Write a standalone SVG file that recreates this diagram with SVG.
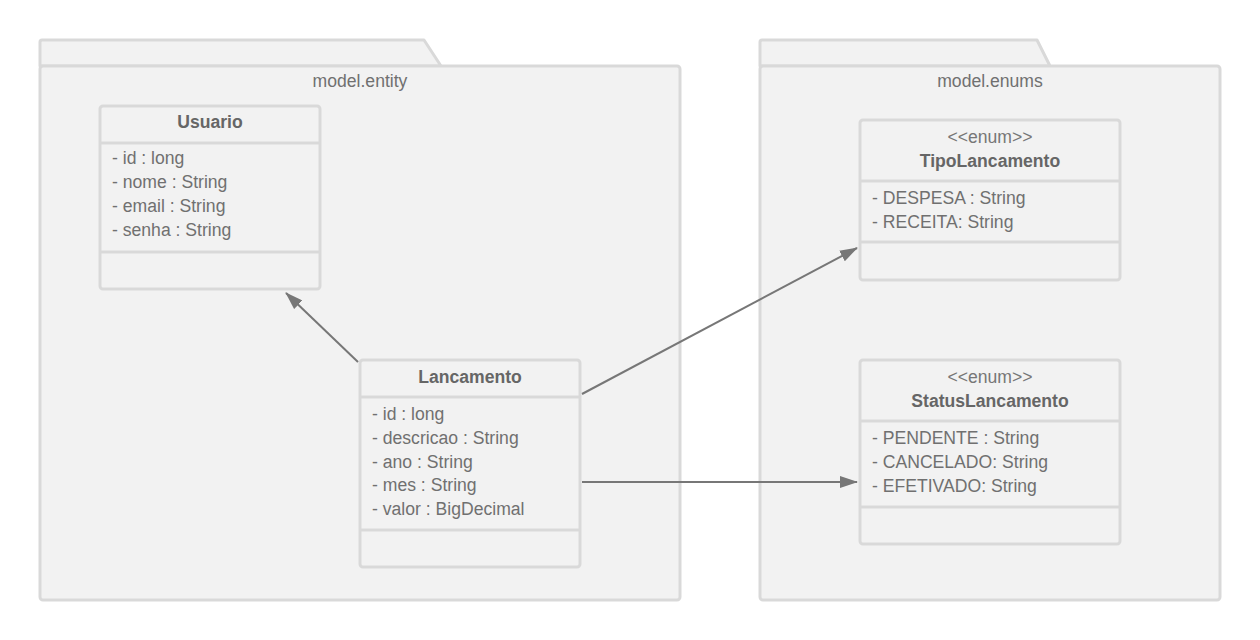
<svg xmlns="http://www.w3.org/2000/svg" width="1260" height="640" viewBox="0 0 1260 640">
<defs>
<style>
.pkg{fill:#f2f2f2;stroke:#d9d9d9;stroke-width:3;stroke-linejoin:round}
.box{fill:#f2f2f2;stroke:#d9d9d9;stroke-width:3}
.div{stroke:#d9d9d9;stroke-width:3}
text{font-family:"Liberation Sans",Arial,sans-serif;font-size:17.6px;fill:#707070}
.t{font-weight:bold;fill:#666;text-anchor:middle}
.c{text-anchor:middle}
.st{text-anchor:middle;fill:#777}
.conn{stroke:#777;stroke-width:2;fill:none}
</style>
<marker id="arr" viewBox="0 0 18 12" refX="17" refY="6" markerWidth="18" markerHeight="12" markerUnits="userSpaceOnUse" orient="auto">
<path d="M0,0 L18,6 L0,12 Z" fill="#777"/>
</marker>
</defs>
<rect width="1260" height="640" fill="#ffffff"/>
<g id="pkg-entity">
<path class="pkg" d="M40,66 L40,42 Q40,40 42,40 L424,40 L441,66 Z"/>
<rect class="pkg" x="40" y="66" width="640" height="534" rx="3"/>
<text class="c" x="360" y="87">model.entity</text>
</g>
<g id="pkg-enums">
<path class="pkg" d="M760,66 L760,42 Q760,40 762,40 L1037,40 L1050,66 Z"/>
<rect class="pkg" x="760" y="66" width="460" height="534" rx="3"/>
<text class="c" x="990" y="87">model.enums</text>
</g>
<g id="usuario">
<rect class="box" x="100" y="106" width="220" height="183" rx="3"/>
<line class="div" x1="100" y1="143" x2="320" y2="143"/>
<line class="div" x1="100" y1="252" x2="320" y2="252"/>
<text class="t" x="210" y="128">Usuario</text>
<text x="112" y="164">- id : long</text>
<text x="112" y="188">- nome : String</text>
<text x="112" y="212">- email : String</text>
<text x="112" y="236">- senha : String</text>
</g>
<g id="lancamento">
<rect class="box" x="360" y="360" width="220" height="207" rx="3"/>
<line class="div" x1="360" y1="397" x2="580" y2="397"/>
<line class="div" x1="360" y1="530" x2="580" y2="530"/>
<text class="t" x="470" y="383">Lancamento</text>
<text x="372" y="420">- id : long</text>
<text x="372" y="444">- descricao : String</text>
<text x="372" y="468">- ano : String</text>
<text x="372" y="491">- mes : String</text>
<text x="372" y="515">- valor : BigDecimal</text>
</g>
<g id="tipolancamento">
<rect class="box" x="860" y="120" width="260" height="160" rx="3"/>
<line class="div" x1="860" y1="181" x2="1120" y2="181"/>
<line class="div" x1="860" y1="242" x2="1120" y2="242"/>
<text class="st" x="990" y="143">&lt;&lt;enum&gt;&gt;</text>
<text class="t" x="990" y="167">TipoLancamento</text>
<text x="872" y="204">- DESPESA : String</text>
<text x="872" y="228">- RECEITA: String</text>
</g>
<g id="statuslancamento">
<rect class="box" x="860" y="360" width="260" height="184" rx="3"/>
<line class="div" x1="860" y1="421" x2="1120" y2="421"/>
<line class="div" x1="860" y1="507" x2="1120" y2="507"/>
<text class="st" x="990" y="383">&lt;&lt;enum&gt;&gt;</text>
<text class="t" x="990" y="407">StatusLancamento</text>
<text x="872" y="444">- PENDENTE : String</text>
<text x="872" y="468">- CANCELADO: String</text>
<text x="872" y="492">- EFETIVADO: String</text>
</g>
<g id="connectors">
<line class="conn" x1="358" y1="362" x2="286" y2="293" marker-end="url(#arr)"/>
<line class="conn" x1="582" y1="394" x2="857" y2="248" marker-end="url(#arr)"/>
<line class="conn" x1="582" y1="482" x2="857" y2="482" marker-end="url(#arr)"/>
</g>
</svg>
